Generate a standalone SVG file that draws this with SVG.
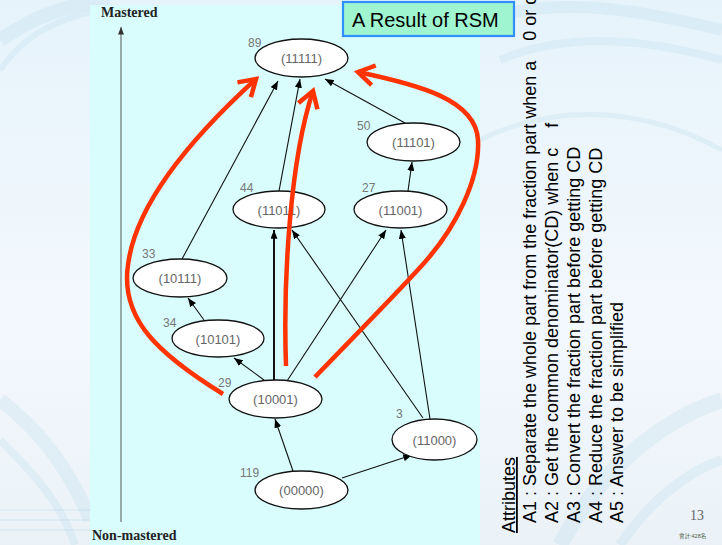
<svg xmlns="http://www.w3.org/2000/svg" width="722" height="545" viewBox="0 0 722 545">
<defs>
<linearGradient id="bg" x1="0" y1="0" x2="0" y2="1">
<stop offset="0" stop-color="#e6f3fb"/>
<stop offset="0.6" stop-color="#f3f8fd"/>
<stop offset="1" stop-color="#eaf2f8"/>
</linearGradient>
<marker id="ah" viewBox="0 0 10 8" refX="10" refY="4" markerWidth="9" markerHeight="7" markerUnits="userSpaceOnUse" orient="auto">
<path d="M0,0 L10,4 L0,8 Z" fill="#000"/>
</marker>
<marker id="ahg" viewBox="0 0 10 8" refX="10" refY="4" markerWidth="8" markerHeight="6" markerUnits="userSpaceOnUse" orient="auto">
<path d="M0,0 L10,4 L0,8 Z" fill="#333"/>
</marker>
<marker id="rh" viewBox="-20 -14 24 28" refX="0" refY="0" markerWidth="24" markerHeight="28" markerUnits="userSpaceOnUse" orient="auto">
<path d="M-16,-10 L0,0 L-16,10" fill="none" stroke="#ff3300" stroke-width="4.5" stroke-linejoin="miter" stroke-linecap="butt"/>
</marker>
</defs>
<style>
.node ellipse{fill:#fff;stroke:#111;stroke-width:1.3}
.node text.code{font-family:"Liberation Sans",Arial,sans-serif;font-size:13px;fill:#666;text-anchor:middle}
.node text.cnt{font-family:"Liberation Sans",Arial,sans-serif;font-size:12px;fill:#777}
.edge{stroke:#111;stroke-width:1.1;fill:none;marker-end:url(#ah)}
.red{stroke:#ff3300;stroke-width:4.5;fill:none;stroke-linecap:butt;marker-end:url(#rh)}
.rot{font-family:"Liberation Sans",Arial,sans-serif;font-size:18px;fill:#000}
.axis{font-family:"Liberation Serif","Times New Roman",serif;font-size:14px;font-weight:bold;fill:#222}
.swirl{fill:none;stroke:#a8d0e6;opacity:0.2}
</style>
<!-- background -->
<rect width="722" height="545" fill="url(#bg)"/>
<g id="background-swirls">
<path class="swirl" d="M0,40 C30,20 60,5 110,0" stroke-width="14" opacity="0.45"/>
<path class="swirl" d="M0,70 C20,40 50,20 100,10" stroke-width="6" opacity="0.3"/>
<path class="swirl" d="M480,20 C560,-5 640,10 722,30" stroke-width="12" opacity="0.35"/>
<path class="swirl" d="M500,60 C570,30 650,40 722,60" stroke-width="8" opacity="0.25"/>
<path class="swirl" d="M480,140 C560,100 650,110 722,150" stroke-width="5" opacity="0.12"/>
<path class="swirl" d="M0,400 C40,430 70,470 90,520" stroke-width="14" opacity="0.12"/>
<path class="swirl" d="M0,440 C30,470 60,500 75,545" stroke-width="8" opacity="0.12"/>
<path class="swirl" d="M0,510 L90,510 M0,520 L90,520 M0,530 L90,530" stroke-width="2" opacity="0.2"/>
<path class="swirl" d="M560,545 C600,470 660,420 722,400" stroke-width="16" opacity="0.12"/>
<path class="swirl" d="M620,545 C650,500 690,470 722,460" stroke-width="10" opacity="0.12"/>
</g>
<!-- panel -->
<rect x="90" y="5" width="390" height="540" fill="#d9fdfd"/>
<!-- axis -->
<g id="axis">
<line x1="121" y1="522" x2="121" y2="27" stroke="#555" stroke-width="1" marker-end="url(#ahg)"/>
<text class="axis" x="101" y="17">Mastered</text>
<text class="axis" x="92" y="540">Non-mastered</text>
</g>
<!-- connectors -->
<g id="connectors">
<line class="edge" x1="293" y1="471" x2="275" y2="419"/>
<line class="edge" x1="342" y1="478" x2="412" y2="455"/>
<line class="edge" x1="264" y1="380" x2="234" y2="358"/>
<line class="edge" x1="204" y1="320" x2="188" y2="298"/>
<line class="edge" x1="182" y1="259" x2="278" y2="81"/>
<line class="edge" x1="274" y1="380" x2="274" y2="230" style="stroke-width:2"/>
<line class="edge" x1="279" y1="191" x2="300" y2="79"/>
<line class="edge" x1="287" y1="381" x2="386" y2="230"/>
<line class="edge" x1="430" y1="419" x2="401" y2="230"/>
<line class="edge" x1="423" y1="418" x2="292" y2="230"/>
<line class="edge" x1="408" y1="191" x2="412" y2="162"/>
<line class="edge" x1="405" y1="123" x2="325" y2="79"/>
</g>
<!-- nodes -->
<g id="n11111" class="node"><ellipse cx="301.5" cy="58" rx="46.5" ry="19"/><text class="code" x="301.5" y="63">(11111)</text><text class="cnt" x="248" y="47">89</text></g>
<g id="n11101" class="node"><ellipse cx="413.5" cy="142" rx="46.5" ry="19"/><text class="code" x="413.5" y="147">(11101)</text><text class="cnt" x="357" y="130">50</text></g>
<g id="n11011" class="node"><ellipse cx="279" cy="209.5" rx="46" ry="18.5"/><text class="code" x="279" y="214.5">(11011)</text><text class="cnt" x="240" y="192">44</text></g>
<g id="n11001" class="node"><ellipse cx="400.5" cy="209.5" rx="46.5" ry="18.5"/><text class="code" x="400.5" y="214.5">(11001)</text><text class="cnt" x="362" y="192">27</text></g>
<g id="n10111" class="node"><ellipse cx="180" cy="278" rx="47" ry="19"/><text class="code" x="180" y="283">(10111)</text><text class="cnt" x="142" y="258">33</text></g>
<g id="n10101" class="node"><ellipse cx="218" cy="338.5" rx="46" ry="18.5"/><text class="code" x="218" y="343.5">(10101)</text><text class="cnt" x="163" y="327">34</text></g>
<g id="n10001" class="node"><ellipse cx="275.5" cy="399" rx="46.5" ry="19"/><text class="code" x="275.5" y="404">(10001)</text><text class="cnt" x="218" y="387">29</text></g>
<g id="n11000" class="node"><ellipse cx="434.5" cy="439.5" rx="42.5" ry="20.5"/><text class="code" x="434.5" y="444.5">(11000)</text><text class="cnt" x="396" y="418">3</text></g>
<g id="n00000" class="node"><ellipse cx="301.5" cy="490" rx="46.5" ry="19"/><text class="code" x="301.5" y="495">(00000)</text><text class="cnt" x="240" y="477">119</text></g>
<!-- red highlight arrows -->
<g id="red-arrows">
<path class="red" d="M223,394 C160,355 120,320 128,265 C136,200 200,130 256,79"/>
<path class="red" d="M286,366 C283,280 290,160 313,91"/>
<path class="red" d="M315,377 C370,320 400,290 425,262 C455,228 480,180 478,140 C476,100 420,85 358,72"/>
</g>
<!-- title -->
<g id="title">
<rect x="343" y="2" width="171" height="34" fill="#9ff5cf" stroke="#2f8fff" stroke-width="2.2"/>
<text x="352" y="27" font-family="'Liberation Sans',Arial,sans-serif" font-size="20" fill="#000">A Result of RSM</text>
</g>
<!-- attributes (rotated) -->
<g id="attributes">
<text class="rot" transform="translate(515,533) rotate(-90)" text-decoration="underline">Attributes</text>
<text class="rot" transform="translate(536,523) rotate(-90)">A1 : Separate the whole part from the fraction part when a&#160;&#160;&#160;&#160;0 or c</text>
<text class="rot" transform="translate(558,523) rotate(-90)">A2 : Get the common denominator(CD) when c&#160;&#160;&#160;&#160;f</text>
<text class="rot" transform="translate(580,523) rotate(-90)">A3 : Convert the fraction part before getting CD</text>
<text class="rot" transform="translate(602,523) rotate(-90)">A4 : Reduce the fraction part before getting CD</text>
<text class="rot" transform="translate(623,523) rotate(-90)">A5 : Answer to be simplified</text>
</g>
<text x="690" y="520" font-family="'Liberation Serif','Times New Roman',serif" font-size="14" fill="#666">13</text>
<text x="679" y="538" font-family="'Liberation Sans','Noto Sans CJK TC',sans-serif" font-size="5.5" fill="#4a5a3a">會計:428名</text>
</svg>
